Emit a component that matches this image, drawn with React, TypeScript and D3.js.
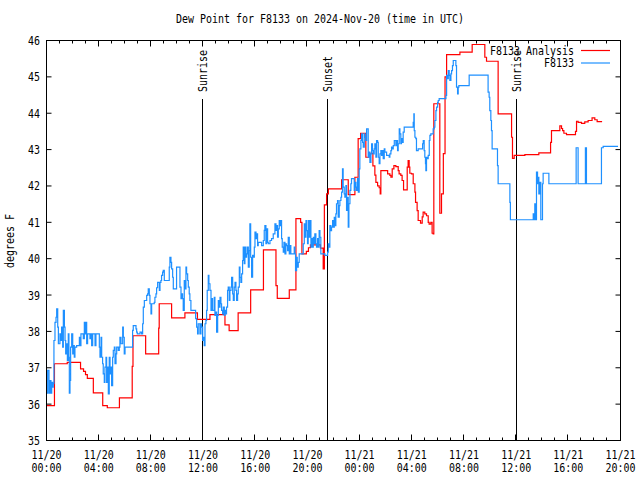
import React from "react";
import * as d3 from "d3";

const TITLE = "Dew Point for F8133 on 2024-Nov-20 (time in UTC)";
const Y_LABEL = "degrees F";
const START = Date.UTC(2024, 10, 20, 0, 0);
const END = Date.UTC(2024, 10, 21, 20, 0);
const yTicks = [35, 36, 37, 38, 39, 40, 41, 42, 43, 44, 45, 46];
const seriesNames = ["F8133 Analysis", "F8133"];
const seriesColors = ["#ff0000", "#1e90ff"];
const eventHours = [11.95, 21.52, 36.0];
const eventLabels = ["Sunrise", "Sunset", "Sunrise"];

// [hours since 2024-11-20 00:00 UTC, dew point °F]
const analysis: [number, number][] = [
  [0.00,35.96],[0.61,37.11],[1.59,37.15],[2.61,36.97],[2.84,36.90],[2.99,36.81],[3.13,36.71],[3.59,36.31],[4.31,35.96],[4.66,35.90],
  [5.59,36.17],[6.57,37.04],[6.63,37.88],[7.60,37.38],[8.60,38.09],[8.64,38.76],[9.59,38.37],[10.61,38.51],[11.57,38.33],[12.53,38.46],
  [13.68,38.18],[14.00,38.02],[14.69,38.51],[15.65,39.14],[16.63,40.24],[17.59,39.26],[17.69,38.91],[18.61,39.14],[19.12,41.10],[19.48,41.00],
  [19.58,40.13],[19.92,40.20],[20.08,40.30],[20.23,40.38],[21.00,40.29],[21.21,39.72],[21.30,41.48],[21.47,41.78],[21.61,41.92],[22.62,42.17],
  [23.13,41.76],[23.64,42.24],[23.89,43.30],[24.08,43.45],[24.48,42.79],[24.71,42.90],[25.02,42.55],[25.17,42.30],[25.25,42.10],[25.38,42.00],
  [25.50,41.95],[25.58,41.78],[25.63,42.42],[26.15,42.33],[26.32,42.29],[26.40,42.24],[26.50,42.47],[26.63,42.56],[26.78,42.53],[26.96,42.42],
  [27.03,42.33],[27.16,42.29],[27.26,42.15],[27.37,41.89],[27.65,42.52],[27.72,42.70],[27.80,42.52],[27.85,42.35],[27.98,42.33],[28.11,42.06],
  [28.24,41.83],[28.29,41.55],[28.41,41.32],[28.49,41.05],[28.67,40.98],[28.80,41.15],[28.87,41.28],[29.00,41.23],[29.13,41.18],[29.26,41.00],
  [29.33,40.95],[29.46,41.00],[29.56,40.70],[29.64,40.68],[29.69,44.26],[30.15,41.25],[30.28,41.78],[30.42,42.89],[30.55,45.00],[30.67,45.61],
  [31.69,45.68],[32.63,45.89],[33.60,45.54],[33.73,45.43],[34.62,43.98],[35.65,43.34],[35.72,42.76],[35.85,42.84],[36.67,42.86],[37.74,42.91],
  [38.64,43.20],[38.71,43.52],[39.35,43.65],[39.48,43.58],[39.56,43.52],[39.66,43.45],[39.86,43.41],[40.55,43.50],[40.63,43.78],[40.75,43.75],
  [41.01,43.72],[41.26,43.76],[41.52,43.80],[41.82,43.87],[42.03,43.82],[42.21,43.77],[42.59,43.77]
];

const observed: [number, number][] = [
  [0.00,36.30],[0.09,36.93],[0.19,36.30],[0.27,36.65],[0.34,36.30],[0.40,36.60],[0.47,36.47],[0.52,36.56],[0.57,37.75],[0.65,38.25],
  [0.73,38.39],[0.78,38.62],[0.86,38.12],[0.91,37.66],[1.03,37.93],[1.11,37.75],[1.16,38.12],[1.24,37.57],[1.29,38.58],[1.37,38.12],
  [1.42,37.75],[1.47,37.38],[1.55,37.66],[1.60,37.20],[1.67,37.93],[1.72,37.29],[1.75,36.30],[1.80,36.65],[1.85,37.57],[1.93,37.93],
  [2.01,37.38],[2.06,37.61],[2.13,37.29],[2.18,37.57],[2.31,37.61],[2.52,37.84],[2.57,37.61],[2.64,37.93],[2.82,37.80],[2.90,38.25],
  [2.95,37.93],[3.03,38.25],[3.08,37.66],[3.15,37.93],[3.33,37.80],[3.41,37.93],[3.46,37.61],[3.54,37.93],[3.72,37.61],[3.79,37.93],
  [4.05,37.57],[4.10,37.29],[4.18,37.84],[4.23,37.29],[4.30,37.11],[4.35,36.83],[4.43,36.60],[4.48,37.02],[4.56,37.29],[4.61,36.60],
  [4.69,37.02],[4.74,36.28],[4.81,37.29],[4.87,36.83],[4.92,37.02],[4.99,36.51],[5.07,37.29],[5.12,37.48],[5.20,37.57],[5.25,37.11],
  [5.33,37.38],[5.38,37.57],[5.50,37.48],[5.58,37.57],[5.63,37.84],[5.71,37.66],[5.84,38.12],[5.89,37.84],[5.96,37.38],[6.02,37.57],
  [6.60,38.03],[6.65,38.16],[6.86,38.07],[6.91,37.98],[6.96,37.93],[7.17,37.98],[7.29,37.93],[7.37,38.21],[7.42,38.67],[7.50,38.85],
  [7.68,38.99],[7.75,39.03],[7.80,39.17],[7.88,38.99],[7.93,38.76],[8.01,38.48],[8.06,38.76],[8.26,38.80],[8.31,38.94],[8.39,39.03],
  [8.44,39.20],[8.52,39.35],[8.65,39.13],[8.70,39.35],[8.77,39.40],[8.82,39.54],[8.90,39.63],[8.95,39.68],[9.03,39.40],[9.41,39.77],
  [9.46,40.04],[9.54,39.90],[9.59,39.72],[9.67,39.49],[9.72,39.17],[9.97,39.77],[10.23,39.22],[10.31,38.90],[10.36,39.03],[10.43,38.90],
  [10.48,38.58],[10.56,39.40],[10.61,39.17],[10.69,39.77],[10.74,39.58],[10.82,39.40],[10.87,39.22],[10.94,39.03],[10.99,38.85],[11.07,38.58],
  [11.43,38.35],[11.51,38.12],[11.58,37.93],[11.63,38.21],[11.76,37.93],[11.84,38.21],[11.89,38.12],[11.97,37.75],[12.02,37.84],[12.09,37.61],
  [12.15,38.21],[12.22,38.30],[12.27,38.58],[12.32,39.13],[12.40,39.54],[12.45,39.31],[12.53,39.13],[12.61,38.58],[12.66,38.90],[12.73,38.58],
  [12.86,38.94],[12.91,38.44],[12.99,38.53],[13.04,37.98],[13.12,38.44],[13.17,38.85],[13.24,38.67],[13.30,38.94],[13.37,38.76],[13.42,38.58],
  [13.50,38.48],[13.55,38.67],[13.63,38.44],[13.68,38.58],[13.75,38.48],[13.80,38.67],[13.88,39.13],[13.93,39.22],[14.01,38.85],[14.06,39.13],
  [14.14,39.22],[14.19,39.49],[14.27,39.03],[14.32,38.85],[14.39,39.22],[14.45,39.35],[14.52,39.13],[14.57,38.85],[14.65,39.03],[14.70,39.22],
  [14.78,39.77],[14.83,39.49],[14.90,39.35],[14.96,39.58],[15.03,39.95],[15.08,40.32],[15.16,39.86],[15.21,40.32],[15.29,40.04],[15.34,40.13],
  [15.41,40.32],[15.47,39.77],[15.54,40.22],[15.59,40.96],[15.65,40.04],[15.72,39.49],[15.80,40.09],[15.85,40.04],[15.93,40.32],[15.98,40.73],
  [16.06,40.55],[16.11,40.68],[16.18,40.36],[16.23,40.45],[16.49,40.36],[16.62,40.50],[16.69,40.78],[16.74,40.91],[16.82,40.41],[16.87,40.82],
  [16.95,40.45],[17.00,40.41],[17.13,40.50],[17.25,40.55],[17.38,40.68],[17.51,40.96],[17.59,40.78],[17.64,40.91],[17.71,40.59],[17.77,40.82],
  [17.84,41.05],[17.89,40.91],[17.97,41.05],[18.02,40.55],[18.07,40.32],[18.15,40.18],[18.20,40.45],[18.28,40.13],[18.35,40.41],[18.40,40.36],
  [18.48,40.22],[18.53,40.59],[18.61,40.13],[18.66,40.36],[18.73,40.13],[18.99,40.32],[19.04,40.13],[19.09,39.67],[19.17,40.04],[19.22,39.77],
  [19.30,39.90],[19.37,40.13],[19.68,40.41],[19.76,40.96],[19.81,40.59],[19.89,41.05],[19.93,40.77],[20.01,40.41],[20.06,41.05],[20.14,40.59],
  [20.19,41.05],[20.27,40.32],[20.32,40.55],[20.40,40.32],[20.45,40.59],[20.52,40.41],[20.57,40.68],[20.65,40.41],[20.70,40.32],[20.78,40.55],
  [20.83,40.32],[20.90,40.77],[20.96,40.59],[21.03,40.13],[21.34,40.09],[21.55,40.18],[21.60,40.41],[21.67,40.32],[21.72,40.91],[21.80,40.77],
  [21.85,40.87],[21.93,41.05],[21.98,40.87],[22.06,41.14],[22.11,40.91],[22.18,41.23],[22.23,41.51],[22.31,41.60],[22.36,41.14],[22.44,41.46],
  [22.49,41.60],[22.57,41.69],[22.62,41.83],[22.69,42.47],[22.74,41.97],[22.82,41.78],[22.87,41.69],[22.95,42.01],[23.00,41.33],[23.07,41.69],
  [23.13,40.87],[23.18,41.51],[23.26,41.88],[23.33,42.06],[23.38,42.20],[23.59,41.88],[23.64,42.10],[23.72,41.97],[23.77,41.88],[23.84,42.20],
  [23.90,41.83],[23.97,42.47],[24.02,43.02],[24.10,43.25],[24.15,43.43],[24.23,43.20],[24.28,43.07],[24.36,43.43],[24.41,43.34],[24.49,43.25],
  [24.54,43.57],[24.66,42.79],[24.74,42.93],[24.79,42.65],[24.87,42.88],[24.92,43.16],[24.99,42.97],[25.04,42.88],[25.12,43.02],[25.17,43.16],
  [25.25,42.79],[25.30,43.25],[25.38,43.20],[25.43,42.79],[25.50,42.61],[25.56,42.88],[25.63,42.97],[25.68,42.84],[25.76,42.97],[25.81,42.75],
  [25.89,43.02],[25.94,42.93],[26.07,42.84],[26.27,42.79],[26.32,42.88],[26.40,42.97],[26.45,43.07],[26.53,43.02],[26.58,43.11],[26.66,43.25],
  [26.78,43.11],[26.83,43.25],[26.91,42.97],[26.96,43.16],[27.04,43.57],[27.09,43.43],[27.16,43.16],[27.21,43.30],[27.29,43.20],[27.34,43.48],
  [27.42,43.62],[28.11,43.75],[28.16,43.98],[28.19,43.52],[28.24,43.34],[28.31,43.30],[28.36,42.97],[28.49,43.02],[28.83,43.16],[28.88,43.25],
  [28.95,42.97],[29.00,42.79],[29.05,42.61],[29.08,42.42],[29.13,42.79],[29.21,42.75],[29.26,42.84],[29.34,43.25],[29.39,43.39],[29.46,43.43],
  [29.64,43.57],[29.72,43.62],[29.77,43.80],[29.85,44.07],[29.90,44.17],[29.98,44.30],[30.03,44.35],[30.10,44.40],[30.62,44.49],[30.67,45.04],
  [30.74,44.95],[30.80,45.17],[30.87,45.04],[30.92,44.90],[31.00,45.08],[31.05,45.17],[31.12,45.31],[31.18,45.45],[31.38,45.31],[31.43,44.72],
  [31.51,44.53],[31.56,44.72],[31.61,44.76],[32.40,45.05],[33.85,44.58],[33.93,44.44],[33.98,44.07],[34.06,43.80],[34.11,43.52],[34.16,43.02],
  [34.57,42.56],[34.62,42.06],[35.52,41.55],[35.56,41.07],[37.31,41.23],[37.38,41.07],[37.43,41.51],[37.49,41.07],[37.56,42.38],[37.64,42.06],
  [37.69,42.24],[37.74,41.78],[37.81,42.10],[37.89,41.07],[38.02,42.06],[38.07,42.35],[38.51,42.06],[40.60,43.05],[40.75,42.06],[41.31,43.05],
  [41.39,42.06],[42.54,43.05],[42.67,43.09],[43.81,43.09]
];

const FONT = "'DejaVu Sans Mono', monospace";
const CHAR_W = 6;

function Label(props: { x: number; y: number; text: string; anchor?: string; transform?: string }) {
  const { x, y, text, anchor = "middle", transform } = props;
  return (
    <text
      x={x}
      y={y}
      textAnchor={anchor}
      fontFamily={FONT}
      fontSize={12}
      fill="#000"
      textLength={text.length * CHAR_W}
      lengthAdjust="spacingAndGlyphs"
      transform={transform}
    >
      {text}
    </text>
  );
}

export default function App() {
  const W = 640, H = 480;
  const left = 46.5, right = 620.5, top = 40.5, bottom = 440.5;
  const hourMs = 3600 * 1000;
  const x = d3.scaleUtc().domain([new Date(START), new Date(END)]).range([left, right]);
  const y = d3.scaleLinear().domain([35, 46]).range([bottom, top]);
  const toDate = (h: number) => new Date(START + h * hourMs);

  const line = d3
    .line<[number, number]>()
    .x((d) => x(toDate(d[0])))
    .y((d) => y(d[1]))
    .curve(d3.curveStepAfter);

  const majorTicks = x.ticks(d3.utcHour.every(4) as any);
  const minorTicks = x.ticks(d3.utcHour.every(1) as any);
  const fmtDate = d3.utcFormat("%m/%d");
  const fmtTime = d3.utcFormat("%H:%M");

  return (
    <svg width={W} height={H} style={{ position: "absolute", left: 0, top: 0, background: "#fff" }}>
      <rect x={0} y={0} width={W} height={H} fill="#fff" />
      <Label x={320} y={23} text={TITLE} />
      <Label x={0} y={0} text={Y_LABEL} transform={`translate(14,241) rotate(-90)`} />

      {/* ticks */}
      {minorTicks.map((t, i) => {
        const isMajor = t.getUTCHours() % 4 === 0;
        const len = isMajor ? 6 : 3;
        const xx = Math.round(x(t)) + 0.5 - 1;
        return (
          <g key={"mt" + i} stroke="#000" strokeWidth={1}>
            <line x1={xx} x2={xx} y1={bottom} y2={bottom - len} />
            <line x1={xx} x2={xx} y1={top} y2={top + len} />
          </g>
        );
      })}
      {yTicks.map((v, i) => (
        <g key={"yt" + i} stroke="#000" strokeWidth={1}>
          <line x1={left} x2={left + 5} y1={y(v)} y2={y(v)} />
          <line x1={right} x2={right - 5} y1={y(v)} y2={y(v)} />
        </g>
      ))}
      {yTicks.map((v, i) => (
        <Label key={"yl" + i} x={40} y={y(v) + 4.5} text={String(v)} anchor="end" />
      ))}
      {majorTicks.map((t, i) => (
        <g key={"xl" + i}>
          <Label x={x(t)} y={459} text={fmtDate(t)} />
          <Label x={x(t)} y={472} text={fmtTime(t)} />
        </g>
      ))}

      {/* sunrise / sunset */}
      {eventHours.map((h, i) => {
        const xx = Math.round(x(toDate(h))) + 0.5;
        return (
          <g key={"ev" + i}>
            <line x1={xx} x2={xx} y1={99} y2={bottom} stroke="#000" strokeWidth={1} />
            <Label x={0} y={4.4} text={eventLabels[i]} anchor="start" transform={`translate(${xx},92) rotate(-90)`} />
          </g>
        );
      })}

      {/* series */}
      <path d={line(analysis) || ""} fill="none" stroke={seriesColors[0]} strokeWidth={1.2} />
      <path d={line(observed) || ""} fill="none" stroke={seriesColors[1]} strokeWidth={1.2} />

      {/* legend */}
      {seriesNames.map((n, i) => (
        <g key={"lg" + i}>
          <Label x={574} y={54.5 + i * 12.5} text={n} anchor="end" />
          <line x1={581} x2={610} y1={50.5 + i * 12.5} y2={50.5 + i * 12.5} stroke={seriesColors[i]} strokeWidth={1.2} />
        </g>
      ))}

      <rect x={left} y={top} width={right - left} height={bottom - top} fill="none" stroke="#000" strokeWidth={1} />
    </svg>
  );
}
